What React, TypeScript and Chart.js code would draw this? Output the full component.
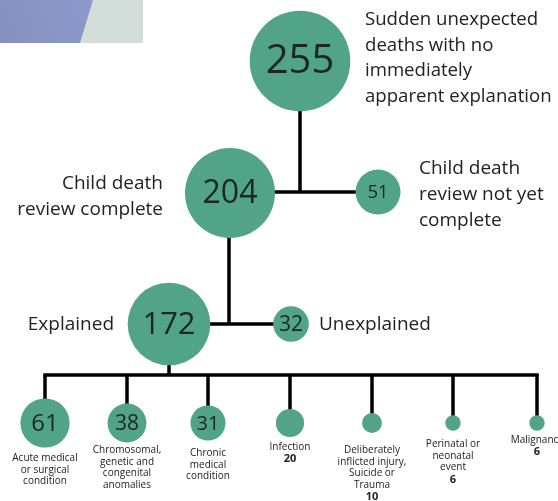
import React, { useEffect, useRef } from "react";
import { Chart, registerables } from "chart.js";

Chart.register(...registerables);

// ---- data ----
const nodeValues = [255, 204, 51, 172, 32, 61, 38, 31, 20, 10, 6, 6];
const nodeLabels: string[][] = [
  ["Sudden unexpected", "deaths with no", "immediately", "apparent explanation"],
  ["Child death", "review complete"],
  ["Child death", "review not yet", "complete"],
  ["Explained"],
  ["Unexplained"],
  ["Acute medical", "or surgical", "condition"],
  ["Chromosomal,", "genetic and", "congenital", "anomalies"],
  ["Chronic", "medical", "condition"],
  ["Infection"],
  ["Deliberately", "inflicted injury,", "Suicide or", "Trauma"],
  ["Perinatal or", "neonatal", "event"],
  ["Malignancy"],
];
// tree: parent index -> children indices
const treeParents = [0, 1, 3];
const treeChildren = [[1, 2], [3, 4], [5, 6, 7, 8, 9, 10, 11]];

// ---- layout (data space of the diagram, 558 x 501) ----
const nodeX = [300, 230, 378, 169, 291, 45, 127, 208, 290, 372, 453, 537];
const nodeY = [61, 193, 192, 324, 324, 423, 423, 423, 423, 423, 423, 423];
const busY = [192, 324, 375];
const busParentX = [300, 229, 169];
// label layout
const labelAlign = ["left", "right", "left", "right", "left", "center", "center", "center", "center", "center", "center", "center"];
const labelX = [365, 163, 419, 114, 319, 45, 127, 208, 290, 372, 453, 537];
const labelY = [20, 184, 169, 325, 325, 458, 450, 453, 447, 450, 444, 440];
const labelGap = [25.5, 26, 26, 0, 0, 11.8, 11.8, 11.8, 11.8, 11.8, 11.8, 11.8];
const labelSize = [18.6, 19, 19, 19, 19, 10, 10, 10, 10, 10, 10, 10];
const numberInside = [true, true, true, true, true, true, true, true, false, false, false, false];
const numberSize = [40, 32, 18, 31, 21, 24, 21, 20, 11, 11, 11, 11];

const FONT = "'Open Sans', 'Noto Sans', sans-serif";
const GREEN = "#51a487";
const RADIUS_K = 3.15;

const treePlugin = {
  id: "treePlugin",
  beforeDatasetsDraw(chart: any) {
    const ctx = chart.ctx;
    const sx = chart.scales.x;
    const sy = chart.scales.y;
    const px = (v: number) => sx.getPixelForValue(v);
    const py = (v: number) => sy.getPixelForValue(v);
    ctx.save();
    // top-left decoration
    ctx.fillStyle = "#d3ddd9";
    ctx.beginPath();
    ctx.moveTo(px(90), py(0));
    ctx.lineTo(px(143), py(0));
    ctx.lineTo(px(143), py(43));
    ctx.lineTo(px(79), py(43));
    ctx.closePath();
    ctx.fill();
    const g = ctx.createLinearGradient(0, py(43), px(93), py(0));
    g.addColorStop(0, "#8590c0");
    g.addColorStop(1, "#8d9acb");
    ctx.fillStyle = g;
    ctx.beginPath();
    ctx.moveTo(px(0), py(0));
    ctx.lineTo(px(93), py(0));
    ctx.lineTo(px(80), py(43));
    ctx.lineTo(px(0), py(43));
    ctx.closePath();
    ctx.fill();

    // connectors
    ctx.strokeStyle = "#000";
    ctx.lineWidth = 3.5;
    ctx.lineCap = "butt";
    treeParents.forEach((p, i) => {
      const kids = treeChildren[i];
      const by = py(busY[i]);
      const xs = kids.map((k) => px(nodeX[k]));
      const minX = Math.min(...xs, px(busParentX[i]));
      const maxX = Math.max(...xs, px(busParentX[i]));
      ctx.beginPath();
      ctx.moveTo(px(busParentX[i]), py(nodeY[p]));
      ctx.lineTo(px(busParentX[i]), by);
      ctx.stroke();
      ctx.beginPath();
      ctx.moveTo(minX - 1.75, by);
      ctx.lineTo(maxX + 1.75, by);
      ctx.stroke();
      kids.forEach((k) => {
        if (Math.abs(py(nodeY[k]) - by) > 2) {
          ctx.beginPath();
          ctx.moveTo(px(nodeX[k]), by);
          ctx.lineTo(px(nodeX[k]), py(nodeY[k]));
          ctx.stroke();
        }
      });
    });
    ctx.restore();
  },
  afterDatasetsDraw(chart: any) {
    const ctx = chart.ctx;
    const sx = chart.scales.x;
    const sy = chart.scales.y;
    ctx.save();
    ctx.textBaseline = "middle";
    nodeValues.forEach((v, i) => {
      if (numberInside[i]) {
        ctx.fillStyle = "#1c2623";
        ctx.textAlign = "center";
        ctx.font = `400 ${numberSize[i]}px ${FONT}`;
        ctx.fillText(String(v), sx.getPixelForValue(nodeX[i]), sy.getPixelForValue(nodeY[i]) + 1);
      }
      const lines = nodeLabels[i];
      ctx.fillStyle = "#222";
      ctx.textAlign = labelAlign[i] as CanvasTextAlign;
      ctx.font = `400 ${labelSize[i]}px ${FONT}`;
      const x = sx.getPixelForValue(labelX[i]);
      lines.forEach((t, j) => {
        ctx.fillText(t, x, sy.getPixelForValue(labelY[i] + j * labelGap[i]));
      });
      if (!numberInside[i]) {
        ctx.font = `700 ${numberSize[i]}px ${FONT}`;
        ctx.fillText(String(v), x, sy.getPixelForValue(labelY[i] + lines.length * labelGap[i]));
      }
    });
    ctx.restore();
  },
};

export default function App() {
  const ref = useRef<HTMLCanvasElement | null>(null);
  useEffect(() => {
    if (!ref.current) return;
    const chart = new Chart(ref.current, {
      type: "bubble",
      data: {
        datasets: [
          {
            data: nodeValues.map((v, i) => ({ x: nodeX[i], y: nodeY[i], r: RADIUS_K * Math.sqrt(v) })),
            backgroundColor: GREEN,
            borderWidth: 0,
            hoverRadius: 0,
            clip: false as any,
          },
        ],
      },
      options: {
        animation: false,
        responsive: false,
        devicePixelRatio: 1,
        layout: { padding: 0, autoPadding: false },
        events: [],
        plugins: { legend: { display: false }, tooltip: { enabled: false } },
        scales: {
          x: { type: "linear", min: 0, max: 558, display: false },
          y: { type: "linear", min: 0, max: 501, reverse: true, display: false },
        },
      },
      plugins: [treePlugin],
    });
    return () => chart.destroy();
  }, []);
  return (
    <div style={{ position: "absolute", left: 0, top: 0, width: 558, height: 501, background: "#fff" }}>
      <canvas ref={ref} width={558} height={501} style={{ display: "block" }} />
    </div>
  );
}
